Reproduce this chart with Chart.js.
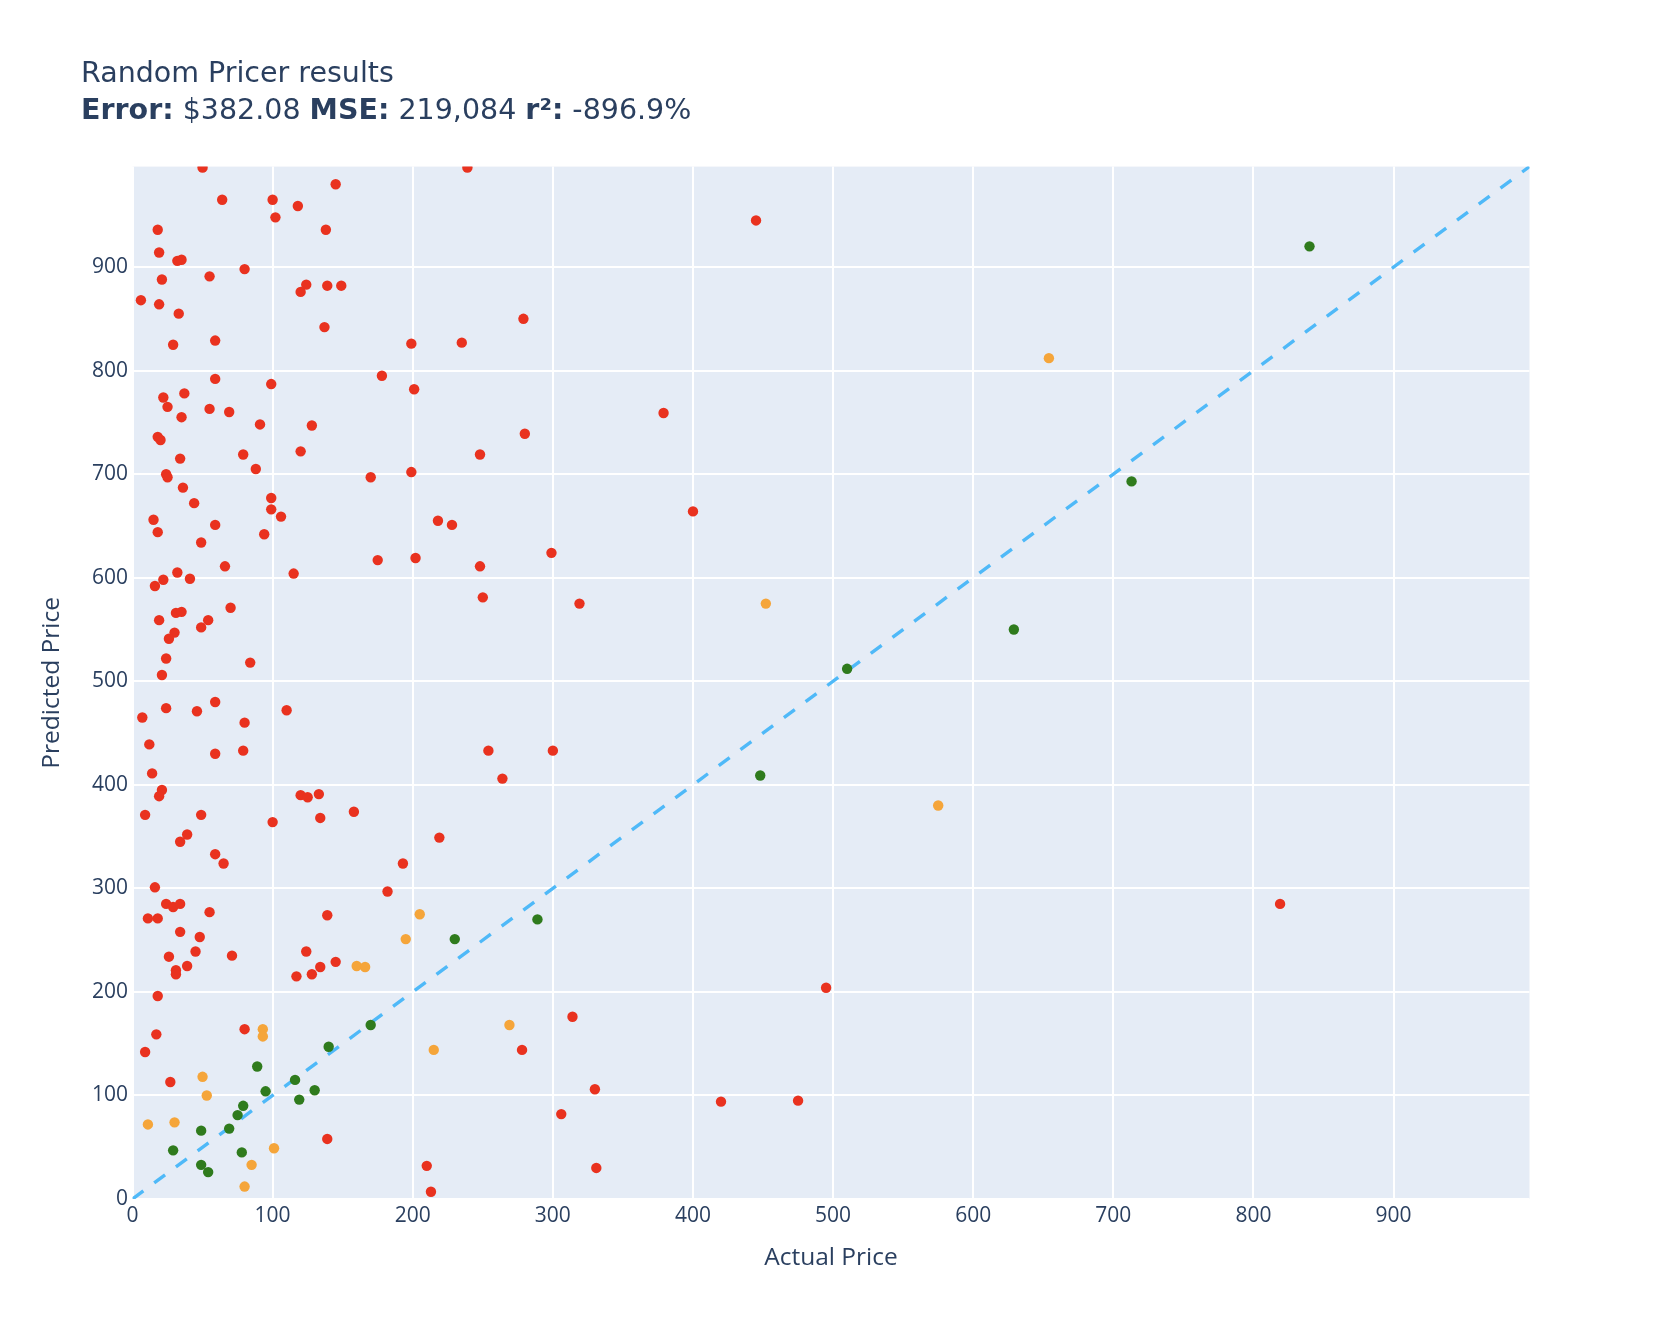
<!DOCTYPE html>
<html>
<head>
<meta charset="utf-8">
<title>Random Pricer results</title>
<script src="https://cdn.jsdelivr.net/npm/chart.js@4.4.1/dist/chart.umd.min.js"></script>
<style>
    html, body { margin: 0; padding: 0; background: #fff; overflow: hidden; }
    #wrap { position: relative; width: 1664px; height: 1324px; }
    #myChart { position: absolute; left: 0; top: 0; }
    #heading {
        position: absolute; left: 81px; top: 54px;
        font-family: "DejaVu Sans", verdana, arial, sans-serif;
        font-size: 28.5px; line-height: 37.3px; color: #2a3f5f;
        white-space: nowrap;
    }
</style>
</head>
<body>
<div id="wrap">
    <canvas id="myChart" width="1664" height="1324"></canvas>
    <div id="heading">
        Random Pricer results<br>
        <b>Error:</b> $382.08 <b>MSE:</b> 219,084 <b>r²:</b> -896.9%
    </div>
</div>
<script>
// [actual, predicted]
const redPoints = [
    [50, 996], [64, 965], [100, 965], [118, 959], [145, 980], [102, 948], [18, 936], [138, 936],
    [19, 914], [32, 906], [35, 907], [80, 898], [55, 891], [21, 888], [124, 883], [120, 876],
    [139, 882], [149, 882], [6, 868], [19, 864], [33, 855], [137, 842], [29, 825], [59, 829],
    [59, 792], [99, 787], [178, 795], [22, 774], [37, 778], [25, 765], [55, 763], [69, 760],
    [35, 755], [91, 748], [128, 747],
    [18, 736], [20, 733], [34, 715], [79, 719], [120, 722], [88, 705], [24, 700], [25, 697],
    [170, 697], [36, 687], [44, 672], [99, 677], [99, 666], [106, 659], [15, 656], [18, 644],
    [59, 651], [94, 642], [49, 634], [175, 617], [66, 611], [32, 605], [115, 604], [22, 598],
    [41, 599], [16, 592], [70, 571], [31, 566], [35, 567], [19, 559], [54, 559], [49, 552],
    [30, 547], [26, 541], [24, 522], [84, 518], [21, 506], [24, 474], [59, 480], [46, 471],
    [110, 472],
    [7, 465], [80, 460], [12, 439], [59, 430], [79, 433], [14, 411], [21, 395], [19, 389],
    [120, 390], [125, 388], [133, 391], [158, 374], [9, 371], [49, 371], [134, 368], [100, 364],
    [39, 352], [34, 345], [59, 333], [65, 324], [16, 301], [24, 285], [29, 282], [34, 285],
    [55, 277], [139, 274], [11, 271], [18, 271], [34, 258], [48, 253], [124, 239], [45, 239],
    [26, 234], [71, 235], [145, 229], [134, 224], [39, 225], [31, 221], [31, 217], [117, 215],
    [128, 217],
    [18, 196], [17, 159], [9, 142], [80, 164], [27, 113], [139, 58],
    [239, 996], [445, 945], [279, 850], [199, 826], [235, 827], [201, 782], [379, 759], [280, 739],
    [248, 719], [199, 702], [400, 664], [218, 655], [228, 651], [202, 619], [248, 611], [299, 624],
    [250, 581], [319, 575],
    [254, 433], [300, 433], [264, 406], [219, 349], [193, 324], [182, 297], [314, 176], [278, 144],
    [330, 106], [306, 82], [420, 94], [210, 32], [213, 7], [331, 30],
    [819, 285], [495, 204], [475, 95]
];

const orangePoints = [
    [160, 225], [166, 224], [93, 164], [93, 157], [50, 118], [53, 100], [11, 72], [30, 74],
    [101, 49], [85, 33], [80, 12], [205, 275], [195, 251], [269, 168], [215, 144],
    [452, 575], [654, 812], [575, 380]
];

const greenPoints = [
    [170, 168], [140, 147], [89, 128], [95, 104], [116, 115], [130, 105], [119, 96], [79, 90],
    [75, 81], [49, 66], [69, 68], [29, 47], [78, 45], [49, 33], [54, 26],
    [448, 409], [230, 251], [289, 270], [840, 920], [713, 693], [629, 550], [510, 512]
];

const axisMax = 997;
const tickValues = [0, 100, 200, 300, 400, 500, 600, 700, 800, 900];

const textColor = '#2a3f5f';
Chart.defaults.font.family = '"Open Sans", verdana, arial, sans-serif';
Chart.defaults.color = textColor;

function toXY(points) {
    return points.map(p => ({ x: p[0], y: p[1] }));
}

// fixed ticks every 100 (stepSize gets rounded away for a 0..997 range)
function setTicks(scale) {
    scale.ticks = tickValues.map(v => ({ value: v }));
}

const plotBackground = {
    id: 'plotBackground',
    beforeDraw(chart) {
        const a = chart.chartArea;
        const c = chart.ctx;
        c.save();
        c.fillStyle = '#e5ecf6';
        c.fillRect(a.left, a.top, a.right - a.left, a.bottom - a.top);
        c.restore();
    }
};

function pointSet(label, points, color) {
    return {
        type: 'scatter',
        label: label,
        data: toXY(points),
        backgroundColor: color,
        borderWidth: 0,
        pointRadius: 5.2,
        pointHoverRadius: 6,
        clip: 0
    };
}

const ctx = document.getElementById('myChart').getContext('2d');
const myChart = new Chart(ctx, {
    data: {
        datasets: [
            pointSet('red', redPoints, '#e9321f'),
            pointSet('orange', orangePoints, '#f5a53a'),
            pointSet('green', greenPoints, '#2f7b1d'),
            {
                type: 'line',
                label: 'y = x',
                data: [{ x: 0, y: 0 }, { x: axisMax, y: axisMax }],
                borderColor: '#4fb9f8',
                borderWidth: 3.4,
                borderDash: [13.5, 13.5],
                pointRadius: 0,
                fill: false,
                clip: 0
            }
        ]
    },
    options: {
        responsive: false,
        animation: false,
        layout: {
            padding: { top: 166.6, right: 134.5, bottom: 0, left: 0 }
        },
        plugins: {
            legend: { display: false },
            title: { display: false },
            tooltip: { enabled: true }
        },
        scales: {
            x: {
                type: 'linear',
                min: 0,
                max: axisMax,
                afterBuildTicks: setTicks,
                ticks: {
                    padding: 4,
                    maxRotation: 0,
                    autoSkip: false,
                    font: { size: 21 },
                    color: textColor
                },
                grid: { color: '#ffffff', lineWidth: 2, drawTicks: false },
                border: { display: false },
                title: {
                    display: true,
                    text: 'Actual Price',
                    font: { size: 24.5 },
                    color: textColor,
                    padding: { top: 0, bottom: 50.8 }
                },
                afterFit: (scale) => { scale.height = 125; }
            },
            y: {
                type: 'linear',
                min: 0,
                max: axisMax,
                afterBuildTicks: setTicks,
                ticks: {
                    padding: 4.5,
                    autoSkip: false,
                    font: { size: 21 },
                    color: textColor
                },
                grid: { color: '#ffffff', lineWidth: 2, drawTicks: false },
                border: { display: false },
                title: {
                    display: true,
                    text: 'Predicted Price',
                    font: { size: 24.5 },
                    color: textColor,
                    padding: { top: 37, bottom: 0 }
                },
                afterFit: (scale) => { scale.width = 132.5; }
            }
        }
    },
    plugins: [plotBackground]
});
</script>
</body>
</html>
